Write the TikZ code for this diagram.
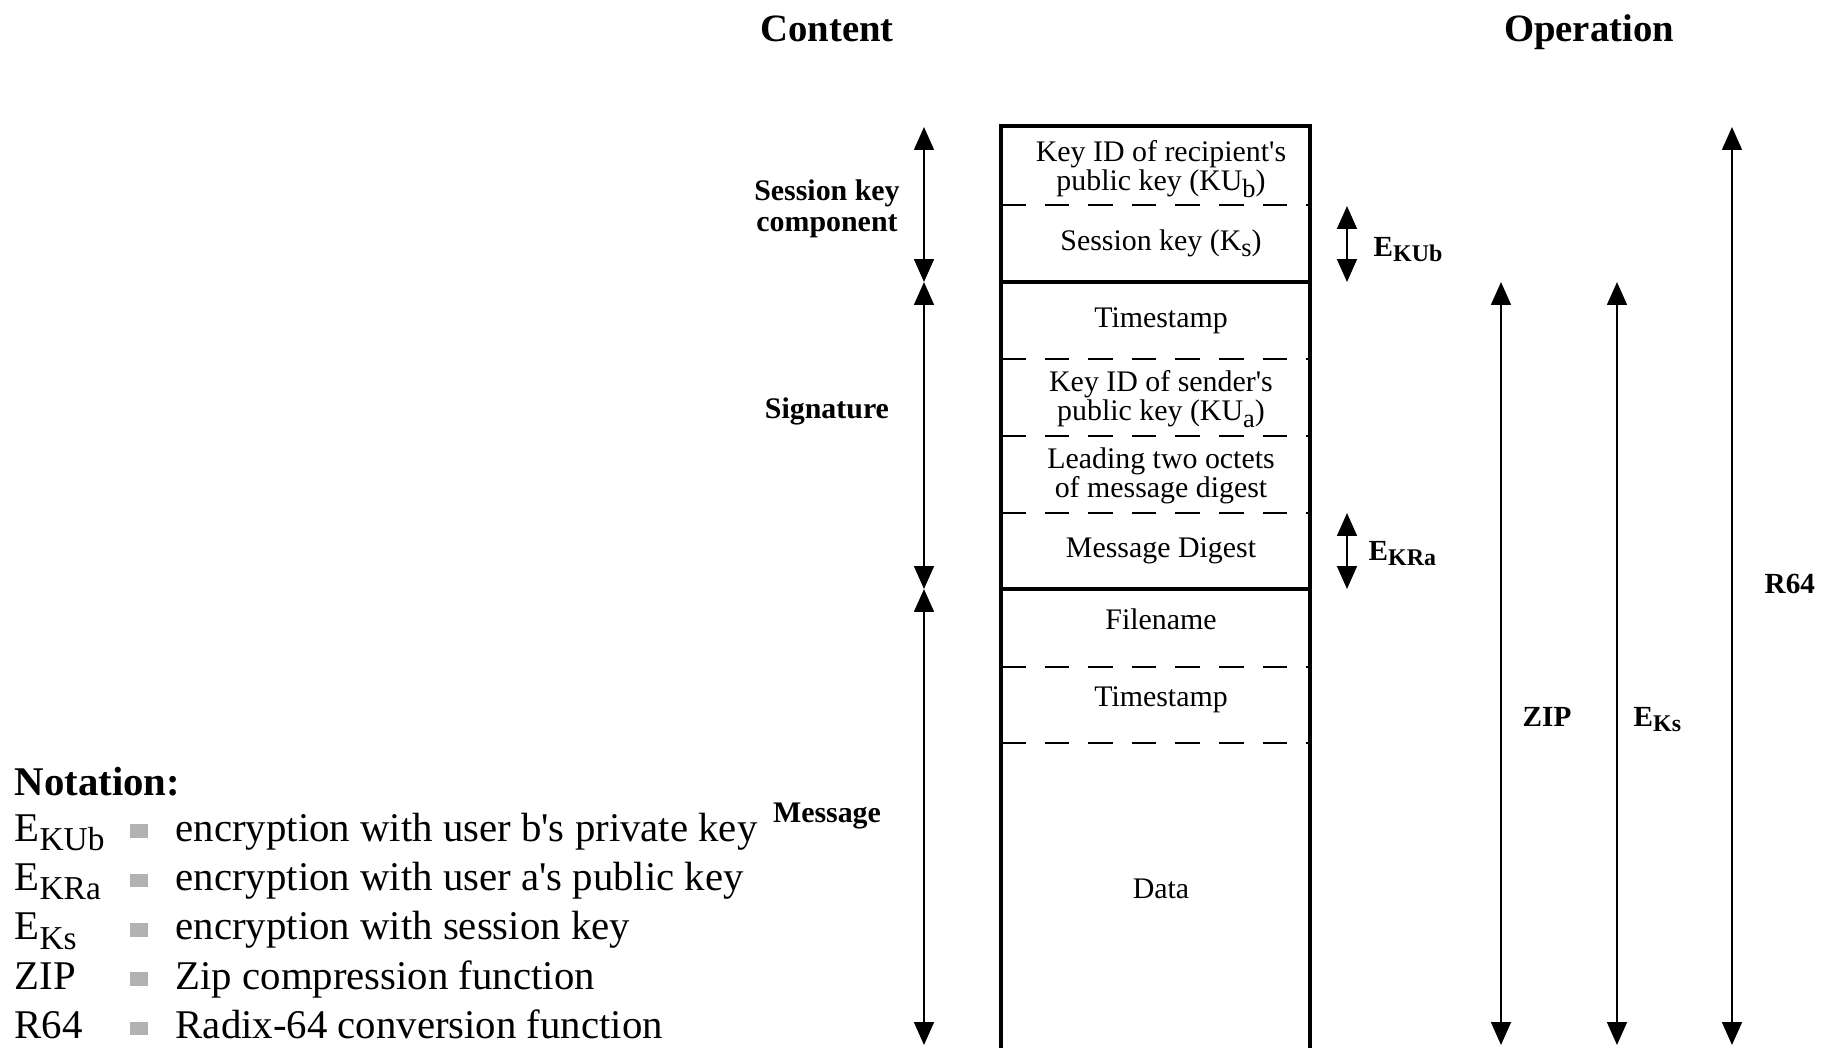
\documentclass[tikz,border=0pt]{standalone}
\usepackage{fontspec}
\setmainfont{Liberation Serif}[Ligatures=TeXOff]
\usetikzlibrary{arrows.meta}

% lowered subscripts in the three text sizes used
\newcommand\boxsub[1]{\raisebox{-0.5ex}{\fontsize{7.5}{7.5}\selectfont #1}}
\newcommand\opsub[1]{\raisebox{-0.4ex}{\fontsize{6.8}{6.8}\selectfont\bfseries #1}}
\newcommand\legsub[1]{\raisebox{-0.5ex}{\fontsize{9.5}{9.5}\selectfont #1}}

\begin{document}
\begin{tikzpicture}[x=0.01cm,y=-0.01cm,
  field/.style={font=\fontsize{8.5}{8.25}\selectfont, align=center, inner sep=0pt},
  partlabel/.style={font=\fontsize{8.5}{8.8}\selectfont\bfseries, align=center, inner sep=0pt},
  title/.style={font=\fontsize{11}{12}\selectfont\bfseries, inner sep=0pt, anchor=base},
  oplabel/.style={font=\fontsize{8.3}{9}\selectfont\bfseries, inner sep=0pt, anchor=base west},
  span/.style={line width=0.65pt, {Triangle[length=6.5pt,width=5.6pt]}-{Triangle[length=6.5pt,width=5.6pt]}},
  outline/.style={line width=1pt},
  divider/.style={line width=0.5pt, dash pattern=on 7pt off 5.4pt},
  legend/.style={font=\fontsize{11.6}{12}\selectfont, inner sep=0pt, anchor=base west},
  eqmark/.style={fill=black!30, draw=none, minimum width=5.4pt, minimum height=3.9pt, inner sep=0pt}
]
\clip (0,0) rectangle (1832,1047);

% column headings
\node[title] (content) at (827,41) {Content};
\node[title] (operation) at (1589,41) {Operation};

% message layout: outline, section rules and field rules
\draw[outline] (1001,1070) -- (1001,126) -- (1310,126) -- (1310,1070);
\draw[outline] (1001,282) -- (1310,282);
\draw[outline] (1001,589) -- (1310,589);
\foreach \yy in {205,359,436,513,667,743}
  \draw[divider] (1001,\yy) -- (1310,\yy);

% field texts
\node[field, anchor=north] (keyidb) at (1161,140) {Key ID of recipient's\\public key (KU\boxsub{b})};
\node[field, anchor=base] (skey) at (1161,250) {Session key (K\boxsub{s})};
\node[field, anchor=base] (ts1) at (1161,327) {Timestamp};
\node[field, anchor=north] (keyida) at (1161,370) {Key ID of sender's\\public key (KU\boxsub{a})};
\node[field, anchor=north] (lead) at (1161,447) {Leading two octets\\of message digest};
\node[field, anchor=base] (digest) at (1161,557) {Message Digest};
\node[field, anchor=base] (fname) at (1161,629) {Filename};
\node[field, anchor=base] (ts2) at (1161,706) {Timestamp};
\node[field, anchor=base] (data) at (1161,898) {Data};

% content extents
\coordinate (c0) at (924,127);
\coordinate (c1) at (924,282);
\coordinate (c2) at (924,589);
\coordinate (c3) at (924,1045);
\draw[span] (c0) -- (c1);
\draw[span] (c1) -- (c2);
\draw[span] (c2) -- (c3);
\node[partlabel] (skc) at (827,209) {Session key\\component};
\node[partlabel, anchor=base] (sig) at (827,418) {Signature};
\node[partlabel, anchor=base] (msg) at (827,822) {Message};

% operation extents
\coordinate (kub0) at (1347,206);
\coordinate (kub1) at (1347,282);
\coordinate (kra0) at (1347,513);
\coordinate (kra1) at (1347,589);
\coordinate (zip0) at (1501,282);
\coordinate (zip1) at (1501,1045);
\coordinate (eks0) at (1617,282);
\coordinate (eks1) at (1617,1045);
\coordinate (r640) at (1732,127);
\coordinate (r641) at (1732,1045);
\draw[span] (kub0) -- (kub1);
\draw[span] (kra0) -- (kra1);
\draw[span] (zip0) -- (zip1);
\draw[span] (eks0) -- (eks1);
\draw[span] (r640) -- (r641);
\node[oplabel] (lkub) at (1373,256) {E\opsub{KUb}};
\node[oplabel] (lkra) at (1368,560) {E\opsub{KRa}};
\node[oplabel] (lzip) at (1522,726) {ZIP};
\node[oplabel] (leks) at (1633,726) {E\opsub{Ks}};
\node[oplabel] (lr64) at (1764,593) {R64};

% notation key
\node[legend, font=\fontsize{11.6}{12}\selectfont\bfseries] (nothead) at (14,795) {Notation:};
\foreach \sym/\txt [count=\i from 0] in {
    E\legsub{KUb}/encryption with user b's private key,
    E\legsub{KRa}/encryption with user a's public key,
    E\legsub{Ks}/encryption with session key,
    ZIP/Zip compression function,
    R64/Radix-64 conversion function} {
  \pgfmathsetmacro\by{841+49.4*\i}
  \node[legend] (sym\i) at (14,\by) {\sym};
  \node[eqmark] (eq\i) at (139,\by-10) {};
  \node[legend] (txt\i) at (175,\by) {\txt};
}
\end{tikzpicture}
\end{document}
